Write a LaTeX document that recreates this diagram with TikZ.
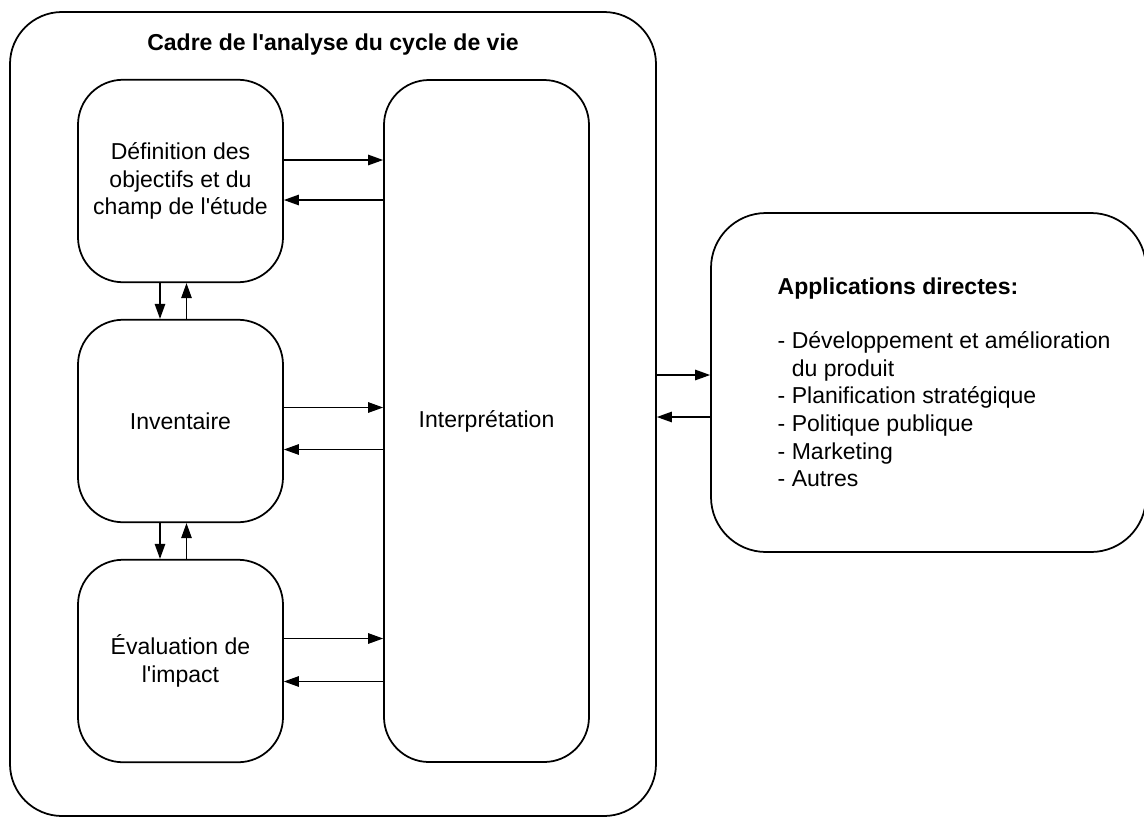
\documentclass[tikz,border=0pt]{standalone}
\usepackage{fontspec}
\setmainfont{Liberation Sans}[Ligatures=TeXOff]
\usetikzlibrary{arrows.meta, positioning}
\tikzstyle{block}=[draw,rectangle,rounded corners=0.9cm,line width=1pt,minimum width=4.1cm,minimum height=4.05cm,align=center]
\tikzstyle{every node}=[font=\fontsize{13.1}{15.7}\selectfont]
\newcommand{\tbold}[1]{\textbf{#1}}

\begin{document}
\begin{tikzpicture}[auto,>={Triangle[length=3mm,width=2.1mm]},line width=0.7pt]
  \useasboundingbox (0,0) rectangle (22.88,-16.36);
  \node[draw,rounded corners=1.04cm,line width=1pt,minimum width=12.92cm,minimum height=16.08cm] (frame) at (6.66,-8.28) {};
  \node[font=\fontsize{13.1}{15.7}\selectfont\bfseries] (title) at ([yshift=-0.66cm]frame.north) {Cadre de l'analyse du cycle de vie};
  \node[block] (def) at (3.61,-3.62) {Définition des\\objectifs et du\\champ de l'étude};
  \node[block, below of=def, node distance=4.8cm] (inv) {Inventaire};
  \node[block, below of=inv, node distance=4.8cm] (eval) {Évaluation de\\l'impact};
  \node[block, right of=inv, node distance=6.12cm, minimum height=13.64cm] (interp) {Interprétation};
  \node[draw,rounded corners=1.1cm,line width=1pt,minimum width=8.7cm,minimum height=6.78cm] (apps) at (18.57,-7.65) {};
  \node[anchor=west, align=left, inner sep=0pt] (applist) at ([xshift=1.34cm]apps.west)
    {\tbold{Applications directes:}\\[15pt]
     - Développement et amélioration\\
     \phantom{- }du produit\\
     - Planification stratégique\\
     - Politique publique\\
     - Marketing\\
     - Autres};
  \draw[->] ([yshift=0.42cm]def.east) coordinate (d1) -- (d1 -| interp.west);
  \draw[<-] ([yshift=-0.38cm]def.east) coordinate (d2) -- (d2 -| interp.west);
  \draw[->] ([yshift=0.27cm]inv.east) coordinate (i1) -- (i1 -| interp.west);
  \draw[<-] ([yshift=-0.57cm]inv.east) coordinate (i2) -- (i2 -| interp.west);
  \draw[->] ([yshift=0.45cm]eval.east) coordinate (e1) -- (e1 -| interp.west);
  \draw[<-] ([yshift=-0.41cm]eval.east) coordinate (e2) -- (e2 -| interp.west);
  \draw[->] ([xshift=-0.41cm]def.south) -- ([xshift=-0.41cm]inv.north);
  \draw[<-] ([xshift=0.12cm]def.south) -- ([xshift=0.12cm]inv.north);
  \draw[->] ([xshift=-0.41cm]inv.south) -- ([xshift=-0.41cm]eval.north);
  \draw[<-] ([xshift=0.12cm]inv.south) -- ([xshift=0.12cm]eval.north);
  \draw[<-] ([yshift=0.15cm]apps.west) coordinate (a1) -- (a1 -| frame.east);
  \draw[->] ([yshift=-0.69cm]apps.west) coordinate (a2) -- (a2 -| frame.east);
\end{tikzpicture}
\end{document}
